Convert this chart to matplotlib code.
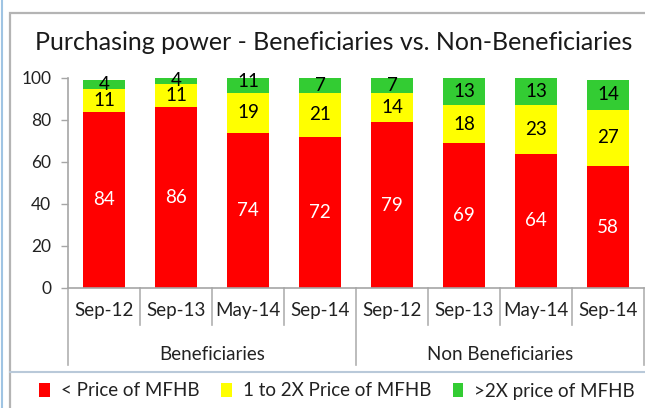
import matplotlib
matplotlib.use("Agg")
import matplotlib.pyplot as plt
from matplotlib.patches import Rectangle
from matplotlib.lines import Line2D
import matplotlib.transforms as mtransforms
import numpy as np

plt.rcParams['font.family'] = ['Lato', 'DejaVu Sans']

categories = ["Sep-12", "Sep-13", "May-14", "Sep-14", "Sep-12", "Sep-13", "May-14", "Sep-14"]
groups = ["Beneficiaries", "Non Beneficiaries"]
group_sizes = [4, 4]
below_price = [84, 86, 74, 72, 79, 69, 64, 58]
one_to_two = [11, 11, 19, 21, 14, 18, 23, 27]
above_two = [4, 4, 11, 7, 7, 13, 13, 14]
series_names = ["< Price of MFHB", "1 to 2X Price of MFHB", ">2X price of MFHB"]
colors = ["#FF0000", "#FFFF00", "#33CC33"]
yticks = [0, 20, 40, 60, 80, 100]

W, H = 645, 408
fig = plt.figure(figsize=(W / 100, H / 100), dpi=100)

def fx(px):
    return px / W

def fy(py):
    return 1 - py / H

# Frame
fig.patches.append(Rectangle((fx(10), fy(420)), fx(660) - fx(10), fy(13) - fy(420),
                             transform=fig.transFigure, fill=False,
                             edgecolor="#b4b4b4", linewidth=1.6, zorder=0))
fig.lines.append(Line2D([fx(10), fx(645)], [fy(372), fy(372)], transform=fig.transFigure,
                        color="#b9c9d9", linewidth=1.5))
fig.lines.append(Line2D([fx(1.5), fx(1.5)], [0, 1], transform=fig.transFigure,
                        color="#9fc4e3", linewidth=1.5))

ax = fig.add_axes([fx(68), fy(288), fx(644) - fx(68), fy(78) - fy(288)])

x = np.arange(len(categories))
bw = 0.59
series = [below_price, one_to_two, above_two]
bottom = np.zeros(len(categories))
for vals, col, name in zip(series, colors, series_names):
    vals = np.array(vals, dtype=float)
    ax.bar(x, vals, bw, bottom=bottom, color=col, label=name, zorder=2)
    txtcol = "white" if col == "#FF0000" else "black"
    for xi, b, v in zip(x, bottom, vals):
        ax.text(xi, b + v / 2, f"{int(v)}", ha="center", va="center",
                color=txtcol, fontsize=13.5, zorder=3, clip_on=False)
    bottom += vals

ax.set_xlim(-0.5, len(categories) - 0.5)
ax.set_ylim(0, 100)
ax.set_yticks(yticks)
ax.set_yticklabels([str(t) for t in yticks], fontsize=12.5, color="#222222")
ax.tick_params(axis="y", length=5, width=1, color="#a6a6a6", pad=7)
ax.set_xticks(x)
ax.set_xticklabels(categories, fontsize=13.5, color="#222222")
ax.tick_params(axis="x", length=0, pad=10)
for s in ["top", "right"]:
    ax.spines[s].set_visible(False)
for s in ["left", "bottom"]:
    ax.spines[s].set_color("#a6a6a6")
    ax.spines[s].set_linewidth(1.2)

trans = mtransforms.blended_transform_factory(ax.transData, ax.transAxes)
axh = 288 - 78
short = -37 / axh
long = -77 / axh
edges = [0]
for g in group_sizes:
    edges.append(edges[-1] + g)
group_edges = set(edges)
for i in range(len(categories) + 1):
    y1 = long if i in group_edges else short
    ax.plot([i - 0.5, i - 0.5], [0, y1], transform=trans, color="#b0b0b0",
            lw=1.2, clip_on=False)
for gi, name in enumerate(groups):
    c = (edges[gi] + edges[gi + 1] - 1) / 2
    ax.text(c, -66 / axh, name, transform=trans, ha="center", va="center",
            fontsize=13.5, color="#222222")

fig.text(0.518, fy(42), "Purchasing power - Beneficiaries vs. Non-Beneficiaries",
         ha="center", va="center", fontsize=18, color="#1a1a1a")

leg = fig.legend(loc="center", bbox_to_anchor=(0.523, fy(391)), ncol=3, frameon=False,
                 fontsize=13.5, handlelength=0.55, handleheight=0.7, handletextpad=0.6,
                 columnspacing=1.15)
for t in leg.get_texts():
    t.set_color("#222222")

fig.savefig("out.png", dpi=100)
